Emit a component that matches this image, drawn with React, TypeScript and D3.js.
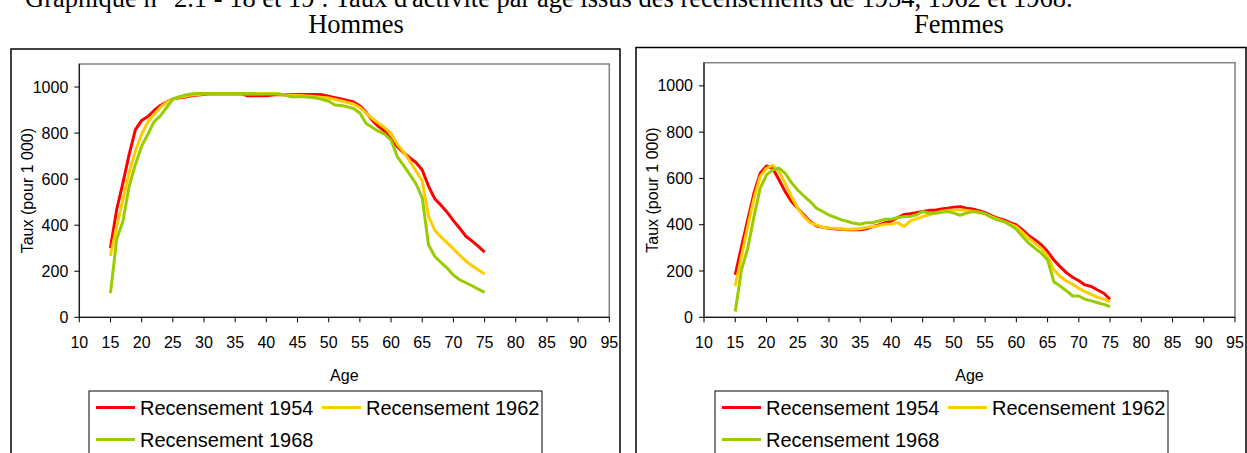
import React from "react";
import * as d3 from "d3";

const ages: number[] = d3.range(15, 76);

const men1954 = [300,468,584,708,815,855,872,898,920,935,948,953,957,962,965,968,970,970,970,970,970,970,962,962,962,962,965,967,967,967,968,968,968,968,966,960,954,948,942,935,918,890,855,828,808,773,741,715,693,672,640,570,515,487,456,420,387,352,331,308,283];
const men1962 = [267,395,512,628,722,795,849,882,911,933,948,955,960,965,968,970,970,970,970,970,970,970,970,970,971,972,972,970,965,963,963,962,960,958,955,952,946,940,933,926,911,887,863,843,823,799,751,718,679,635,592,439,378,349,323,297,270,244,224,205,188];
const men1968 = [105,340,417,570,664,744,795,850,875,911,948,958,965,970,972,972,972,972,972,972,972,972,972,972,970,970,970,970,965,958,958,958,956,952,946,938,922,920,914,907,887,842,824,807,795,769,698,660,621,580,519,315,265,238,214,183,163,150,137,122,108];

const women1954 = [183,305,421,536,622,654,644,594,543,500,471,442,414,395,389,385,382,380,378,378,378,382,392,399,409,416,431,444,447,452,457,462,463,468,471,476,478,471,468,461,452,439,428,421,409,399,378,352,334,313,284,248,219,193,173,158,140,133,118,104,78];
const women1962 = [135,262,392,514,608,644,657,630,579,522,471,435,409,399,389,386,385,382,380,380,383,388,392,396,402,403,409,392,416,425,435,442,450,457,461,464,464,462,458,452,447,435,424,414,403,392,366,341,320,298,265,205,176,157,143,125,111,99,86,79,68];
const women1968 = [25,205,298,435,558,615,637,644,622,582,550,524,500,471,457,442,432,421,414,406,402,409,409,416,424,424,431,435,436,442,457,450,450,454,457,450,441,450,457,455,447,432,421,414,399,380,349,320,298,277,248,154,135,115,92,92,78,71,63,56,46];

const xTicks: number[] = d3.range(10, 96, 5);
const yTicks: number[] = [0, 200, 400, 600, 800, 1000];
const seriesNames = ["Recensement 1954", "Recensement 1962", "Recensement 1968"];
const seriesColors = ["#FF0000", "#FFCC00", "#99CC00"];
const mainTitle = "Graphique n° 2.1 - 18 et 19 : Taux d'activité par âge issus des recensements de 1954, 1962 et 1968.";

const SANS = "'Liberation Sans', Arial, sans-serif";
const SERIF = "'Liberation Serif', 'Times New Roman', serif";

type PanelProps = {
  title: string;
  titleX: number;
  titleY: number;
  box: { x0: number; y0: number; x1: number };
  plot: { x0: number; x1: number; y0: number; y1: number };
  legend: { x0: number; x1: number; y0: number };
  series: number[][];
};

function Panel({ title, titleX, titleY, box, plot, legend, series }: PanelProps) {
  const x = d3.scaleLinear().domain([10, 95]).range([plot.x0, plot.x1]);
  const y = d3.scaleLinear().domain([0, 1100]).range([plot.y1, plot.y0]);
  const line = d3
    .line<number>()
    .x((_, i) => x(ages[i]))
    .y((d) => y(d));
  const lx = legend.x0;
  const col2 = lx + 233;
  const row1 = legend.y0 + 16.5;
  const row2 = legend.y0 + 48.5;
  const legendItems = [
    { lx: lx + 7, ly: row1 },
    { lx: col2, ly: row1 },
    { lx: lx + 7, ly: row2 },
  ];
  return (
    <g>
      <text x={titleX} y={titleY} fontFamily={SERIF} fontSize={26.5} textAnchor="middle" fill="#000">
        {title}
      </text>
      <rect x={box.x0} y={box.y0} width={box.x1 - box.x0} height={470 - box.y0} fill="#fff" stroke="#000" strokeWidth={1.5} />
      <rect x={plot.x0} y={plot.y0} width={plot.x1 - plot.x0} height={plot.y1 - plot.y0} fill="#fff" stroke="#808080" strokeWidth={1.5} />
      {series.map((s, i) => (
        <path key={i} d={line(s) || ""} fill="none" stroke={seriesColors[i]} strokeWidth={3} strokeLinejoin="round" />
      ))}
      <line x1={plot.x0} x2={plot.x0} y1={plot.y0} y2={plot.y1} stroke="#000" strokeWidth={1} />
      <line x1={plot.x0} x2={plot.x1} y1={plot.y1} y2={plot.y1} stroke="#000" strokeWidth={1} />
      {yTicks.map((t) => (
        <g key={"y" + t}>
          <line x1={plot.x0 - 5} x2={plot.x0} y1={y(t)} y2={y(t)} stroke="#000" />
          <text x={plot.x0 - 11} y={y(t)} dy="0.35em" textAnchor="end" fontFamily={SANS} fontSize={16} fill="#000">
            {t}
          </text>
        </g>
      ))}
      {xTicks.map((t) => (
        <g key={"x" + t}>
          <line x1={x(t)} x2={x(t)} y1={plot.y1} y2={plot.y1 + 5} stroke="#000" />
          <text x={x(t)} y={plot.y1 + 25} dy="0.35em" textAnchor="middle" fontFamily={SANS} fontSize={16} fill="#000">
            {t}
          </text>
        </g>
      ))}
      <text x={(plot.x0 + plot.x1) / 2} y={375} dy="0.35em" textAnchor="middle" fontFamily={SANS} fontSize={16} fill="#000">
        Age
      </text>
      <text
        transform={`translate(${plot.x0 - 52},${(plot.y0 + plot.y1) / 2}) rotate(-90)`}
        dy="0.35em"
        textAnchor="middle"
        fontFamily={SANS}
        fontSize={16}
        fill="#000"
      >
        Taux (pour 1 000)
      </text>
      <rect x={legend.x0} y={legend.y0} width={legend.x1 - legend.x0} height={470 - legend.y0} fill="#fff" stroke="#000" strokeWidth={1} />
      {legendItems.map((it, i) => (
        <g key={"l" + i}>
          <line x1={it.lx} x2={it.lx + 39} y1={it.ly} y2={it.ly} stroke={seriesColors[i]} strokeWidth={3} />
          <text x={it.lx + 44} y={it.ly} dy="0.35em" fontFamily={SANS} fontSize={20} fill="#000">
            {seriesNames[i]}
          </text>
        </g>
      ))}
    </g>
  );
}

export default function App() {
  return (
    <svg width={1247} height={453} style={{ position: "absolute", left: 0, top: 0, background: "#fff" }}>
      <rect x={0} y={0} width={1247} height={453} fill="#fff" />
      <text x={25} y={7} fontFamily={SERIF} fontSize={26.5} fill="#000">
        {mainTitle}
      </text>
      <Panel
        title="Hommes"
        titleX={356}
        titleY={33}
        box={{ x0: 11, y0: 49, x1: 620 }}
        plot={{ x0: 79.3, x1: 609.3, y0: 64, y1: 317.3 }}
        legend={{ x0: 89, x1: 542, y0: 391 }}
        series={[men1954, men1962, men1968]}
      />
      <Panel
        title="Femmes"
        titleX={959}
        titleY={33}
        box={{ x0: 636, y0: 47.5, x1: 1246 }}
        plot={{ x0: 704, x1: 1235, y0: 62.7, y1: 317.3 }}
        legend={{ x0: 715, x1: 1168, y0: 391 }}
        series={[women1954, women1962, women1968]}
      />
    </svg>
  );
}
